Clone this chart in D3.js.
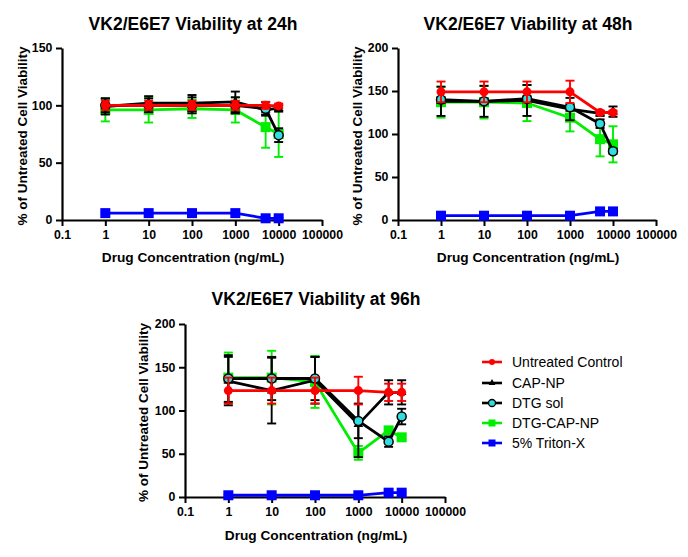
<!DOCTYPE html>
<html><head><meta charset="utf-8">
<script src="https://cdn.jsdelivr.net/npm/d3@7"></script>
<style>
body{margin:0;background:#fff;}
svg{font-family:"Liberation Sans",Arial,Helvetica,sans-serif;}
</style></head>
<body><svg id="c" width="688" height="557"></svg>
<script>
const concentrations = [1, 10, 100, 1000, 5000, 10000];
const xTicks = [0.1, 1, 10, 100, 1000, 10000, 100000];
const xTickLabels = ["0.1", "1", "10", "100", "1000", "10000", "100000"];
const seriesNames = ["Untreated Control", "CAP-NP", "DTG sol", "DTG-CAP-NP", "5% Triton-X"];
const panelTitles = ["VK2/E6E7 Viability at 24h", "VK2/E6E7 Viability at 48h", "VK2/E6E7 Viability at 96h"];
const yMaxes = [150, 200, 200];
const yTicks24 = [0, 50, 100, 150];
const yTicks48 = [0, 50, 100, 150, 200];
const yTicks96 = [0, 50, 100, 150, 200];

// 24h
const control24 = [100, 100, 100, 100, 100, 99.5];
const control24Err = [4, 4, 4, 4, 3, 2];
const capnp24 = [99, 102, 102, 103, 96, 97.5];
const capnp24Err = [7, 6, 7, 9, 4, 3];
const dtgsol24 = [100, 100, 100, 100, 97, 74];
const dtgsol24Err = [6, 6, 7, 7, 6, 6];
const dtgcap24 = [96, 96, 97, 96, 81, 75];
const dtgcap24Err = [10, 11, 8, 11, 18, 20];
const triton24 = [6, 6, 6, 6, 1.5, 1.5];
const triton24Err = [1, 1, 1, 1, 1, 1];

// 48h
const control48 = [149, 149, 149, 149, 125, 125];
const control48Err = [12, 12, 12, 13, 2, 2];
const capnp48 = [138, 138, 139, 129, 124, 126];
const capnp48Err = [17, 18, 18, 13, 3, 6];
const dtgsol48 = [140, 138, 141, 131, 112, 80];
const dtgsol48Err = [3, 3, 3, 3, 5, 3];
const dtgcap48 = [137, 137, 136, 119, 94, 88];
const dtgcap48Err = [18, 19, 21, 16, 20, 21];
const triton48 = [5, 5, 5, 5, 10, 10];
const triton48Err = [1, 1, 1, 1, 1, 1];

// 96h
const control96 = [123, 123, 123, 123, 121, 121];
const control96Err = [15, 15, 15, 16, 10, 10];
const capnp96 = [134, 123, 135, 84, 121, 121];
const capnp96Err = [28, 38, 27, 38, 14, 14];
const dtgsol96 = [137, 137, 137, 88, 64, 93];
const dtgsol96Err = [27, 25, 25, 20, 6, 9];
const dtgcap96 = [138, 138, 133, 51, 77, 69];
const dtgcap96Err = [29, 31, 30, 8, 3, 3];
const triton96 = [2, 2, 2, 2, 5, 5];
const triton96Err = [1, 1, 1, 1, 1, 1];

const colors = ["#ff0000", "#000000", "#000000", "#00ee00", "#0000ff"];

const panelData = [
  [[control24, control24Err], [capnp24, capnp24Err], [dtgsol24, dtgsol24Err], [dtgcap24, dtgcap24Err], [triton24, triton24Err]],
  [[control48, control48Err], [capnp48, capnp48Err], [dtgsol48, dtgsol48Err], [dtgcap48, dtgcap48Err], [triton48, triton48Err]],
  [[control96, control96Err], [capnp96, capnp96Err], [dtgsol96, dtgsol96Err], [dtgcap96, dtgcap96Err], [triton96, triton96Err]]
];
const panelYTicks = [yTicks24, yTicks48, yTicks96];

// layout
const layouts = [
  {x0: 62, x1: 322, y0: 220, y1: 48, titleY: 30, xLabY: 262, yLabX: 27},
  {x0: 398, x1: 656, y0: 220, y1: 48, titleY: 30, xLabY: 262, yLabX: 362},
  {x0: 185, x1: 445, y0: 497, y1: 324, titleY: 305, xLabY: 540, yLabX: 148}
];

const svg = d3.select("#c");

function marker(g, idx, x, y) {
  if (idx === 0) {
    g.append("circle").attr("cx", x).attr("cy", y).attr("r", 4.5).attr("fill", "#ff0000");
  } else if (idx === 1) {
    g.append("path").attr("d", d3.symbol(d3.symbolTriangle, 40)()).attr("transform", `translate(${x},${y})`).attr("fill", "#000");
  } else if (idx === 2) {
    g.append("circle").attr("cx", x).attr("cy", y).attr("r", 4.5).attr("fill", "#33dddd").attr("stroke", "#000").attr("stroke-width", 1.5);
  } else {
    g.append("rect").attr("x", x - 5).attr("y", y - 5).attr("width", 10).attr("height", 10).attr("fill", colors[idx]);
  }
}

const drawOrder = [4, 3, 1, 2, 0];

layouts.forEach((L, p) => {
  const x = d3.scaleLog().domain([0.1, 100000]).range([L.x0, L.x1]);
  const y = d3.scaleLinear().domain([0, yMaxes[p]]).range([L.y0, L.y1]);
  const g = svg.append("g");

  g.append("text").attr("x", (L.x0 + L.x1) / 2 + 1).attr("y", L.titleY).attr("text-anchor", "middle")
    .attr("font-weight", "bold").attr("font-size", 17.5).text(panelTitles[p]);

  const xa = g.append("g").attr("transform", `translate(0,${L.y0})`)
    .call(d3.axisBottom(x).tickValues(xTicks).tickFormat((d, i) => xTickLabels[i]).tickSize(6).tickSizeOuter(0));
  const ya = g.append("g").attr("transform", `translate(${L.x0},0)`)
    .call(d3.axisLeft(y).tickValues(panelYTicks[p]).tickSize(6).tickSizeOuter(0));
  [xa, ya].forEach(a => {
    a.select(".domain").attr("stroke", "#000").attr("stroke-width", 2.2);
    a.selectAll(".tick line").attr("stroke", "#000").attr("stroke-width", 2);
    a.selectAll(".tick text").attr("font-size", 12.3).attr("font-weight", "bold")
      .attr("font-family", '"Liberation Sans",Arial,sans-serif').attr("fill", "#000");
  });
  xa.selectAll(".tick text").attr("dy", "0.85em");
  ya.selectAll(".tick text").attr("dx", "-0.05em");

  g.append("text").attr("x", (L.x0 + L.x1) / 2 + 1).attr("y", L.xLabY).attr("text-anchor", "middle")
    .attr("font-weight", "bold").attr("font-size", 13.7).text("Drug Concentration (ng/mL)");
  g.append("text").attr("transform", `translate(${L.yLabX},${(L.y0 + L.y1) / 2 + 2}) rotate(-90)`)
    .attr("text-anchor", "middle").attr("font-weight", "bold").attr("font-size", 13.5)
    .text("% of Untreated Cell Viability");

  const line = d3.line().x(d => x(d[0])).y(d => y(d[1]));
  drawOrder.forEach(si => {
    const [vals, errs] = panelData[p][si];
    const col = colors[si];
    const sg = g.append("g");
    const pts = concentrations.map((c, i) => [c, vals[i]]);
    concentrations.forEach((c, i) => {
      const cx = x(c), hi = y(vals[i] + errs[i]), lo = y(vals[i] - errs[i]);
      sg.append("line").attr("x1", cx).attr("x2", cx).attr("y1", hi).attr("y2", lo).attr("stroke", col).attr("stroke-width", 1.9);
      [hi, lo].forEach(yy => sg.append("line").attr("x1", cx - 4.5).attr("x2", cx + 4.5).attr("y1", yy).attr("y2", yy)
        .attr("stroke", col).attr("stroke-width", 1.9));
    });
    sg.append("path").datum(pts).attr("d", line).attr("fill", "none").attr("stroke", col).attr("stroke-width", 2.8);
    pts.forEach(d => marker(sg, si, x(d[0]), y(d[1])));
  });
});

// legend
const legendYs = [362, 383, 403, 423, 443];
const lg = svg.append("g");
seriesNames.forEach((n, i) => {
  const yy = legendYs[i];
  lg.append("line").attr("x1", 482).attr("x2", 502).attr("y1", yy).attr("y2", yy).attr("stroke", colors[i]).attr("stroke-width", 2.6);
  if (i === 0) lg.append("circle").attr("cx", 492).attr("cy", yy).attr("r", 3).attr("fill", "#f00");
  else if (i === 1) lg.append("path").attr("d", d3.symbol(d3.symbolTriangle, 20)()).attr("transform", `translate(492,${yy})`).attr("fill", "#000");
  else if (i === 2) lg.append("circle").attr("cx", 492).attr("cy", yy).attr("r", 3.5).attr("fill", "#33dddd").attr("stroke", "#000").attr("stroke-width", 1.3);
  else lg.append("rect").attr("x", 488.5).attr("y", yy - 3.5).attr("width", 7).attr("height", 7).attr("fill", colors[i]);
  lg.append("text").attr("x", 512).attr("y", yy).attr("dy", "0.35em").attr("font-size", 14).text(n);
});
</script></body></html>
